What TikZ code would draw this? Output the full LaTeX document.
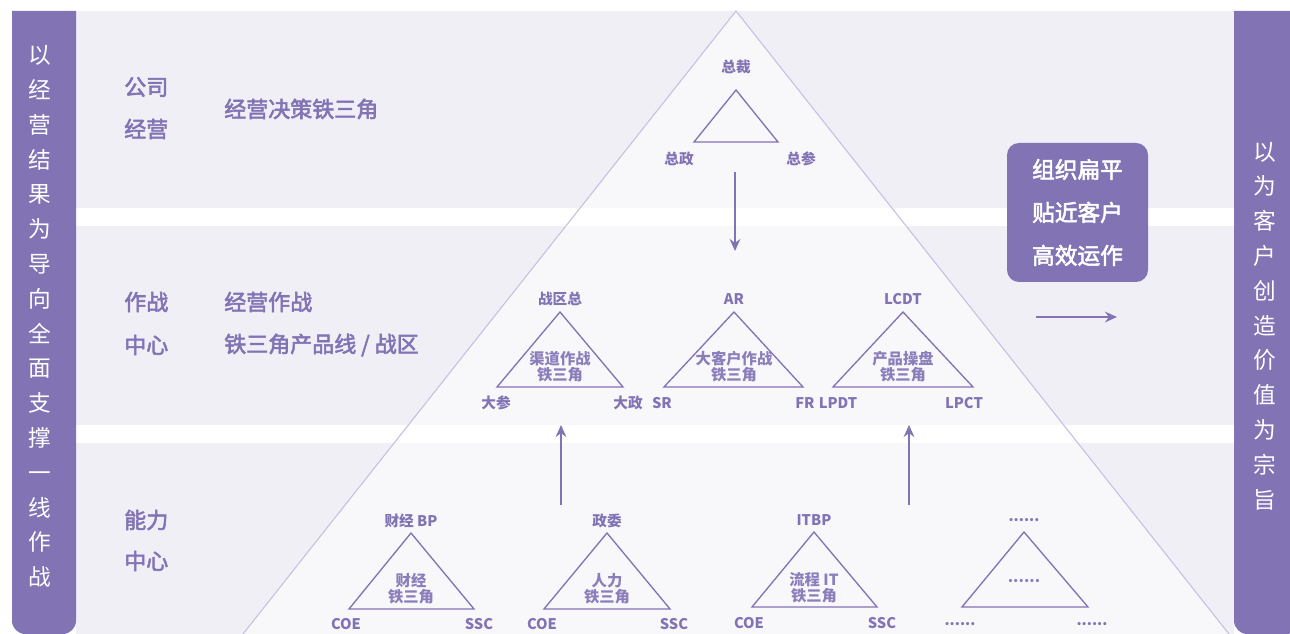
\documentclass[tikz,border=0pt]{standalone}
\usepackage{fontspec}
\setmainfont{Noto Sans CJK SC}
\newfontfamily\midfont{Noto Sans CJK SC}[FakeBold=2.5]
\usepackage{tikz}
\usetikzlibrary{arrows.meta,positioning}
\definecolor{ironpurple}{HTML}{8273B4}
\definecolor{ironband}{HTML}{F0EFF6}
\definecolor{ironpale}{HTML}{F8F8FB}
\definecolor{ironline}{HTML}{C6BFE0}

\begin{document}
\begin{tikzpicture}[
  x=0.75pt, y=-0.75pt,
  band/.style={fill=ironband, draw=none},
  gap/.style={fill=white, draw=none},
  bar/.style={fill=ironpurple, draw=none},
  bartext/.style={font=\fontsize{17}{26.1}\selectfont, text=white, align=center, inner sep=0pt},
  lvl/.style={font=\midfont\fontsize{16.5}{20}\selectfont, text=ironpurple, anchor=west, inner sep=0pt},
  tag/.style={font=\bfseries\fontsize{11}{12}\selectfont, text=ironpurple, inner sep=0pt},
  core/.style={font=\bfseries\fontsize{11.5}{12}\selectfont, text=ironpurple!92, align=center, inner sep=0pt},
  tri/.style={draw=ironpurple, line width=1pt, line join=miter},
  arr/.style={-{Stealth[length=9pt, width=8pt]}, ironpurple, line width=1.4pt}
]
\useasboundingbox (0,0) rectangle (1290,634);

% bands
\fill[band] (76,11) rectangle (1234,208);
\fill[band] (76,226) rectangle (1234,425);
\fill[band] (76,443) rectangle (1234,634);

% pyramid
\fill[ironpale] (736,11) -- (243,634) -- (1229,634) -- cycle;
\fill[gap] (76,208) rectangle (1234,226);
\fill[gap] (76,425) rectangle (1234,443);
\draw[ironline, line width=0.8pt] (243,634) -- (736,11) -- (1229,634);

% side bars
\fill[bar] (12,11) -- (76,11) [rounded corners=10] -- (76,634) -- (12,634) [sharp corners] -- cycle;
\fill[bar] (1300,11) -- (1234,11) [rounded corners=10] -- (1234,634) -- (1300,634) [sharp corners] -- cycle;
\node[bartext] (goal) at (40,316.5) {以\\经\\营\\结\\果\\为\\导\\向\\全\\面\\支\\撑\\一\\线\\作\\战};
\node[bartext] (aim) at (1265,326) {以\\为\\客\\户\\创\\造\\价\\值\\为\\宗\\旨};

% level labels
\node[lvl] (corp1) at (124,87) {公司};
\node[lvl] (corp2) at (124,129) {经营};
\node[lvl] (corpdesc) at (224,109) {经营决策铁三角};
\node[lvl] (ops1) at (124,302) {作战};
\node[lvl] (ops2) at (124,345) {中心};
\node[lvl] (opsdesc1) at (224,302) {经营作战};
\node[lvl] (opsdesc2) at (224,345) {铁三角产品线 / 战区};
\node[lvl] (cap1) at (124,520) {能力};
\node[lvl] (cap2) at (124,561) {中心};

% top triangle
\coordinate (ceoT) at (736,90);
\coordinate (ceoL) at (694,142);
\coordinate (ceoR) at (778,142);
\draw[tri] (ceoT) -- (ceoL) -- (ceoR) -- cycle;
\node[tag] (ceo) at (736,67) {总裁};
\node[tag] (ceopol) at (679,159) {总政};
\node[tag] (ceostf) at (801,159) {总参};

% middle triangles
\coordinate (chT) at (560,312);
\coordinate (chL) at (497,387);
\coordinate (chR) at (623,387);
\draw[tri] (chT) -- (chL) -- (chR) -- cycle;
\node[tag] (chtop) at (560,299) {战区总};
\node[core] (chin) at (560,367) {渠道作战\\铁三角};
\node[tag] (chleft) at (496,403) {大参};
\node[tag] (chright) at (628,403) {大政};

\coordinate (kaT) at (734,312);
\coordinate (kaL) at (664,387);
\coordinate (kaR) at (803,387);
\draw[tri] (kaT) -- (kaL) -- (kaR) -- cycle;
\node[tag] (katop) at (734,299) {AR};
\node[core] (kain) at (734,367) {大客户作战\\铁三角};
\node[tag] (kaleft) at (662,403) {SR};
\node[tag] (karight) at (805,403) {FR};

\coordinate (pdT) at (903,312);
\coordinate (pdL) at (833,387);
\coordinate (pdR) at (973,387);
\draw[tri] (pdT) -- (pdL) -- (pdR) -- cycle;
\node[tag] (pdtop) at (903,299) {LCDT};
\node[core] (pdin) at (903,367) {产品操盘\\铁三角};
\node[tag] (pdleft) at (838,403) {LPDT};
\node[tag] (pdright) at (964,403) {LPCT};

% bottom triangles
\coordinate (finT) at (411,533);
\coordinate (finL) at (349,609);
\coordinate (finR) at (474,609);
\draw[tri] (finT) -- (finL) -- (finR) -- cycle;
\node[tag] (fintop) at (411,521) {财经 BP};
\node[core] (finin) at (411,589) {财经\\铁三角};
\node[tag] (finleft) at (346,624) {COE};
\node[tag] (finright) at (479,624) {SSC};

\coordinate (hrT) at (607,533);
\coordinate (hrL) at (544,609);
\coordinate (hrR) at (670,609);
\draw[tri] (hrT) -- (hrL) -- (hrR) -- cycle;
\node[tag] (hrtop) at (607,521) {政委};
\node[core] (hrin) at (607,589) {人力\\铁三角};
\node[tag] (hrleft) at (542,624) {COE};
\node[tag] (hrright) at (674,624) {SSC};

\coordinate (itT) at (814,532);
\coordinate (itL) at (752,607);
\coordinate (itR) at (877,607);
\draw[tri] (itT) -- (itL) -- (itR) -- cycle;
\node[tag] (ittop) at (814,520) {ITBP};
\node[core] (itin) at (814,588) {流程 IT\\铁三角};
\node[tag] (itleft) at (749,623) {COE};
\node[tag] (itright) at (882,623) {SSC};

\coordinate (etcT) at (1024,532);
\coordinate (etcL) at (962,607);
\coordinate (etcR) at (1088,607);
\draw[tri] (etcT) -- (etcL) -- (etcR) -- cycle;
\node[tag] (etctop) at (1024,520) {......};
\node[core] (etcin) at (1024,581) {......};
\node[tag] (etcleft) at (960,624) {......};
\node[tag] (etcright) at (1092,624) {......};

% callout
\node[fill=ironpurple, rounded corners=9pt, minimum width=105.75pt, minimum height=104.25pt,
      text=white, align=center, font=\midfont\fontsize{17}{32.2}\selectfont] (flat) at (1077.5,212.5)
      {组织扁平\\贴近客户\\高效运作};

% arrows
\coordinate (downA) at (735,172);
\coordinate (downB) at (735,251);
\draw[arr] (downA) -- (downB);
\coordinate (upA1) at (561,505);
\coordinate (upB1) at (561,425);
\draw[arr] (upA1) -- (upB1);
\coordinate (upA2) at (909,505);
\coordinate (upB2) at (909,425);
\draw[arr] (upA2) -- (upB2);
\coordinate (rightA) at (1036,317);
\coordinate (rightB) at (1117,317);
\draw[arr] (rightA) -- (rightB);

\end{tikzpicture}
\end{document}
